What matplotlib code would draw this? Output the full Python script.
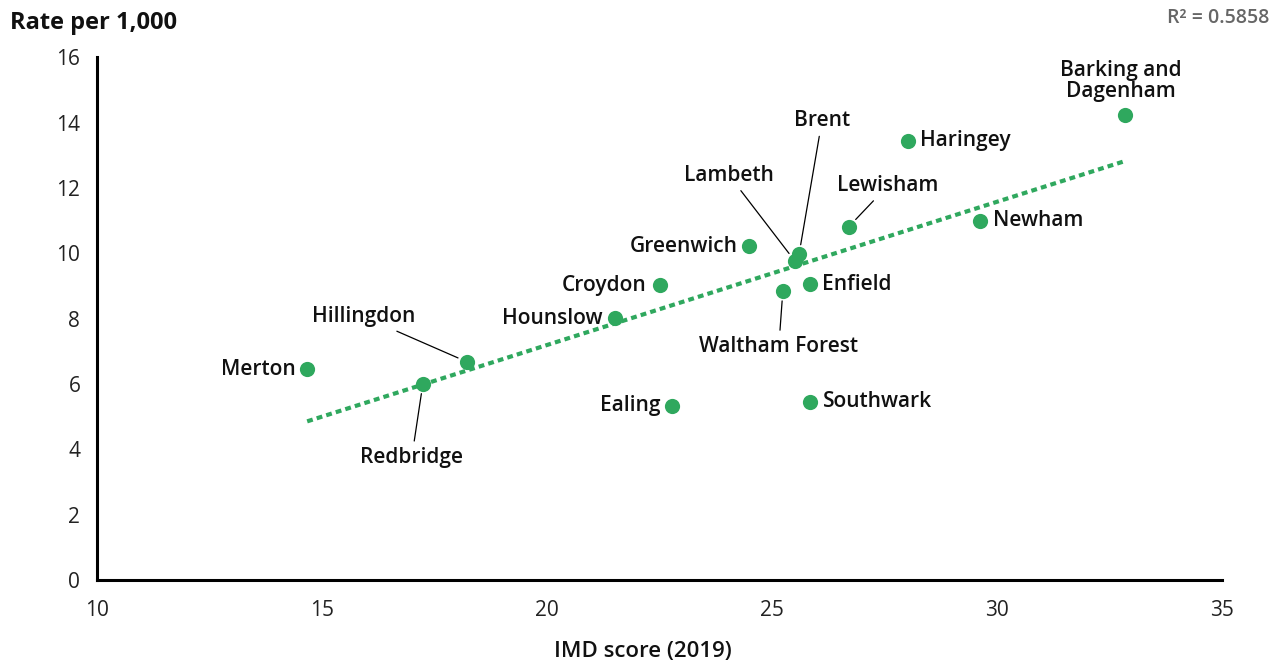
import numpy as np
import matplotlib.pyplot as plt

# IMD score (2019) vs rate per 1,000 by London borough
boroughs = ["Merton", "Redbridge", "Hillingdon", "Hounslow", "Croydon", "Ealing",
            "Greenwich", "Waltham Forest", "Lambeth", "Brent", "Enfield",
            "Southwark", "Lewisham", "Haringey", "Newham", "Barking and\nDagenham"]
imd = [14.67, 17.24, 18.22, 21.51, 22.51, 22.78, 24.49, 25.24, 25.51, 25.6,
       25.84, 25.84, 26.71, 28.02, 29.62, 32.84]
rate = [6.46, 6.0, 6.68, 8.02, 9.02, 5.34, 10.21, 8.84, 9.76, 9.97, 9.05,
        5.46, 10.82, 13.45, 11.0, 14.24]
r2_text = "R\u00b2 = 0.5858"

# label placement: offset in pixels, horizontal alignment, leader line
label_pos = {
    "Merton": (-11, 0, "right", False),
    "Redbridge": (-11, -73, "center", True),
    "Hillingdon": (-103, 45, "center", True),
    "Hounslow": (-12, 0, "right", False),
    "Croydon": (-13, 0, "right", False),
    "Ealing": (-12, 0, "right", False),
    "Greenwich": (-11, 0, "right", False),
    "Waltham Forest": (-4, -55, "center", True),
    "Lambeth": (-66, 86, "center", True),
    "Brent": (23, 134, "center", True),
    "Enfield": (12, 0, "left", False),
    "Southwark": (13, 0, "left", False),
    "Lewisham": (39, 41, "center", True),
    "Haringey": (12, 0, "left", False),
    "Newham": (13, 0, "left", False),
    "Barking and\nDagenham": (-4, 34, "center", False),
}

green = "#2FA85E"
plt.rcParams['font.family'] = ['Open Sans', 'DejaVu Sans']

fig = plt.figure(figsize=(12.85, 6.66), dpi=100, facecolor="white")
ax = fig.add_axes([0.0755, 0.129, 0.8755, 0.785])

x = np.array(imd)
y = np.array(rate)
ax.scatter(x, y, s=120, color=green, zorder=3, linewidths=0)

# linear trend across the data range
m, c = np.polyfit(x, y, 1)
xt = np.array([x.min(), x.max()])
ax.plot(xt, m * xt + c, color=green, lw=3, linestyle=(0, (1.4, 1.0)), zorder=2)

for name, xi, yi in zip(boroughs, imd, rate):
    dx, dy, ha, lead = label_pos[name]
    props = None
    if lead:
        props = dict(arrowstyle="-", color="black", lw=0.9, shrinkA=2, shrinkB=7)
    ax.annotate(name, (xi, yi), xytext=(dx, dy), textcoords="offset pixels",
                ha=ha, va="center", fontsize=15, fontweight="semibold",
                color="#111111", arrowprops=props, linespacing=1.0, zorder=4)

ax.set_xlim(10, 35)
ax.set_ylim(0, 16)
ax.set_xticks(np.arange(10, 36, 5))
ax.set_yticks(np.arange(0, 17, 2))
ax.tick_params(length=0, labelsize=15, colors="#222222")
ax.tick_params(axis="x", pad=14)
ax.tick_params(axis="y", pad=12)
for s in ["top", "right"]:
    ax.spines[s].set_visible(False)
for s in ["left", "bottom"]:
    ax.spines[s].set_linewidth(2.2)
    ax.spines[s].set_color("black")

fig.text(0.008, 0.965, "Rate per 1,000", fontsize=17, fontweight="bold",
         ha="left", va="center", color="#111111")
fig.text(0.5, 0.022, "IMD score (2019)", fontsize=16, fontweight="semibold",
         ha="center", va="center", color="#111111")
fig.text(0.988, 0.973, r2_text, fontsize=14, fontweight="semibold",
         ha="right", va="center", color="#666666")

fig.savefig("out.png", dpi=100, facecolor="white")
